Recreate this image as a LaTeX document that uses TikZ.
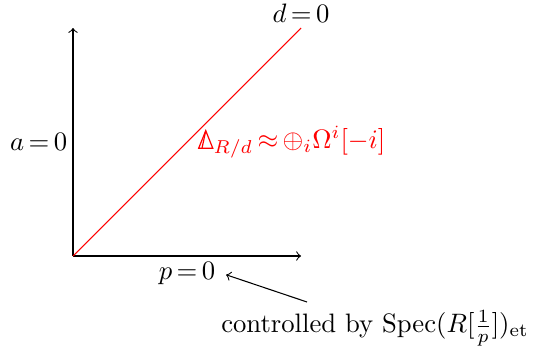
\documentclass[tikz,border=0pt]{standalone}
\usepackage{amsmath}
\usetikzlibrary{calc}
\newcommand{\prismD}{\mathord{\mbox{\tikz[baseline=0pt,x=1pt,y=1pt,line width=0.45pt,line join=miter]{\path (-0.3,0) rectangle (5.6,6.8); \draw (0,0)--(2.65,6.6)--(5.3,0)--cycle; \draw (2.65,6.6)--(1.25,0);}}}}
\begin{document}
\thickmuskip=3mu plus 2mu
\begin{tikzpicture}[x=0.375pt,y=-0.375pt,
  axis/.style={->},
  lbl/.style={inner sep=2pt}]
\useasboundingbox (0,0) rectangle (534,350);
\coordinate (O) at (73,256);
\coordinate (X) at (301,256);
\coordinate (Y) at (73,28);
\coordinate (D) at (301,28);
\draw[axis] (O) -- (X);
\draw[axis] (O) -- (Y);
\draw[red] (O) -- (D);
\node[lbl, above] (dl) at (D) {$d=0$};
\node[lbl, left] (al) at ($(O)!0.5!(Y)$) {$a=0$};
\node[lbl, below] (pl) at ($(O)!0.5!(X)$) {$p=0$};
\node[lbl, right, red] (rl) at ($(O)!0.5!(D)+(5,0)$) {$\prismD_{R/d}\approx\oplus_i\Omega^i[-i]$};
\coordinate (s) at (307,302);
\node[lbl] (cl) at (375,328) {controlled by $\mathrm{Spec}(R[\frac{1}{p}])_{\mathrm{et}}$};
\draw[->, shorten >=2pt] (s) -- (pl.east);
\end{tikzpicture}
\end{document}
